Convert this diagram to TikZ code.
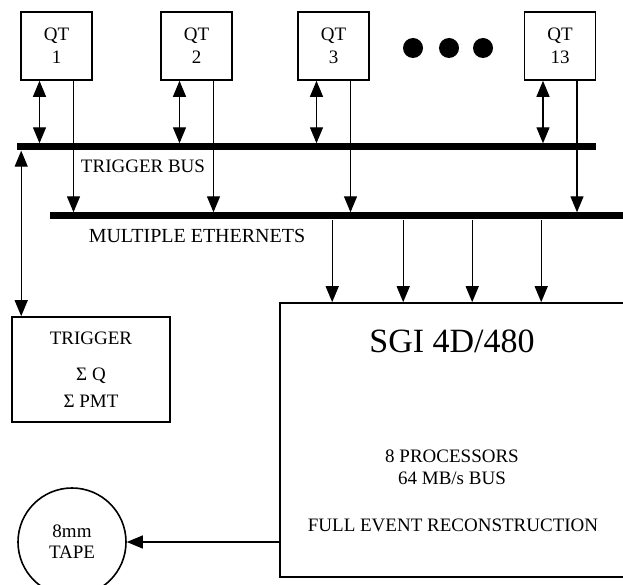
\documentclass[tikz,border=0pt]{standalone}
\usepackage{fontspec}
\setmainfont{Liberation Serif}
\usetikzlibrary{arrows.meta}
\tikzset{
  unitbox/.style={draw,line width=1.6pt,minimum width=71pt,minimum height=68pt,align=center,inner sep=0pt,font=\fontsize{19}{23}\selectfont},
  bus/.style={fill=black,inner sep=0pt,minimum height=7pt},
  arr/.style={line width=1.3pt,-{Triangle[length=16pt,width=13pt]}},
  dblarr/.style={line width=1.3pt,{Triangle[length=16pt,width=13pt]}-{Triangle[length=16pt,width=13pt]}},
  lbl/.style={font=\fontsize{19}{22}\selectfont,align=center,inner sep=0pt}
}
\begin{document}
\begin{tikzpicture}[x=1pt,y=-1pt]
\useasboundingbox (0,0) rectangle (623,585);

% QT units
\node[unitbox] (qt1) at (56.5,46) {QT\\1};
\node[unitbox] (qt2) at (196.5,46) {QT\\2};
\node[unitbox] (qt3) at (333.5,46) {QT\\3};
\node[unitbox] (qt13) at (560,46) {QT\\13};
\foreach \x/\n in {413/1,449/2,483/3}
  \node[circle,fill=black,minimum size=20pt,inner sep=0pt] (dot\n) at (\x,48) {};

% buses
\node[bus,minimum width=579pt] (tbus) at (306.5,147) {};
\node[bus,minimum width=590pt] (ebus) at (345,216) {};
\node[lbl] (tbuslbl) at (143,166) {TRIGGER BUS};
\node[lbl,font=\fontsize{20}{22}\selectfont] (ebuslbl) at (197,236) {MULTIPLE ETHERNETS};

\foreach \q in {qt1,qt2,qt3,qt13}{
  \draw[dblarr] ([xshift=-17pt]\q.south) -- ([xshift=-17pt]\q.south |- tbus.north);
  \draw[arr] ([xshift=17pt]\q.south) -- ([xshift=17pt]\q.south |- ebus.north);
}

% trigger
\node[draw,line width=1.6pt,minimum width=158pt,minimum height=105pt,align=center,inner sep=0pt,
  font=\fontsize{19}{22}\selectfont] (trig) at (91,369.5) {TRIGGER\\[14pt]Σ Q\\[5pt]Σ PMT};
\draw[dblarr] ([xshift=10pt]trig.north west |- tbus.south) -- ([xshift=10pt]trig.north west);

% SGI
\node[draw,line width=1.6pt,minimum width=380pt,minimum height=274pt] (sgi) at (470,440) {};
\node[font=\fontsize{34}{40}\selectfont,inner sep=0pt] (sgititle) at (452,341) {SGI 4D/480};
\node[lbl] (sgiinfo) at (452,467.5) {8 PROCESSORS\\64 MB/s BUS};
\node[lbl] (sgitask) at (453,525) {FULL EVENT RECONSTRUCTION};
\foreach \dx in {53,124,193,262}
  \draw[arr] ([xshift=\dx pt]sgi.north west |- ebus.south) -- ([xshift=\dx pt]sgi.north west);

% tape
\node[circle,draw,line width=1.6pt,minimum size=108pt,align=center,inner sep=0pt,
  font=\fontsize{19}{21}\selectfont] (tape) at (72,542) {8mm\\TAPE};
\draw[arr] (sgi.west |- tape.east) -- (tape.east);
\end{tikzpicture}
\end{document}
